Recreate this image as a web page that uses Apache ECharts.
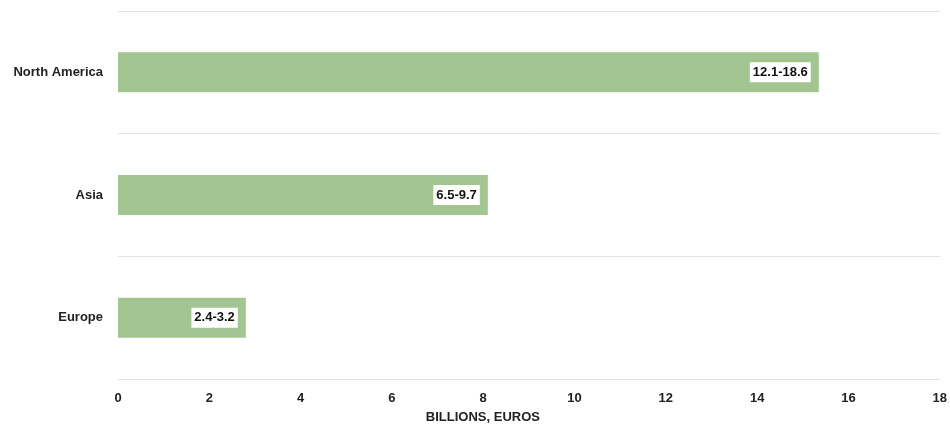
<!DOCTYPE html>
<html>
<head>
<meta charset="utf-8">
<script src="https://cdn.jsdelivr.net/npm/echarts@6/dist/echarts.min.js"></script>
<style>
  html, body { margin: 0; padding: 0; background: #fff; }
  #chart { width: 950px; height: 430px; }
</style>
</head>
<body>
<div id="chart"></div>
<script>
// Market size by region: ranges in billions of euros, bars drawn at the range midpoint
const regions = ['Europe', 'Asia', 'North America'];
const rangeLow = [2.4, 6.5, 12.1];
const rangeHigh = [3.2, 9.7, 18.6];
const xTicks = { min: 0, max: 18, interval: 2 };

const midpoints = regions.map((_, i) => +(((rangeLow[i] + rangeHigh[i]) / 2).toFixed(2)));
const rangeLabels = regions.map((_, i) => rangeLow[i] + '-' + rangeHigh[i]);

const chart = echarts.init(document.getElementById('chart'), null, { renderer: 'canvas' });
const font = 'Liberation Sans, Arial, sans-serif';

chart.setOption({
  animation: false,
  grid: { left: 118, right: 8, top: 11, bottom: 51, containLabel: false },
  xAxis: {
    type: 'value',
    min: xTicks.min,
    max: xTicks.max,
    interval: xTicks.interval,
    name: 'BILLIONS, EUROS',
    nameLocation: 'middle',
    nameGap: 32,
    nameTextStyle: {
      fontFamily: font, fontWeight: 'bold', fontSize: 13, color: '#222',
      padding: [0, 92, 0, 0]
    },
    axisLine: { show: false },
    axisTick: { show: false },
    splitLine: { show: false },
    axisLabel: { fontFamily: font, fontWeight: 'bold', fontSize: 13, color: '#222', margin: 13 }
  },
  yAxis: {
    type: 'category',
    data: regions,
    axisLine: { show: false },
    axisTick: { show: false },
    splitLine: { show: true, lineStyle: { color: '#e3e3e3', width: 1 } },
    axisLabel: { fontFamily: font, fontWeight: 'bold', fontSize: 13, color: '#222', margin: 15 }
  },
  series: [{
    type: 'bar',
    data: midpoints,
    barWidth: 40,
    itemStyle: { color: '#a3c592' },
    label: {
      show: true,
      position: 'insideRight',
      distance: 8,
      formatter: (p) => rangeLabels[p.dataIndex],
      fontFamily: font,
      fontWeight: 'bold',
      fontSize: 13,
      color: '#111',
      backgroundColor: '#fff',
      padding: [4, 3, 3, 3]
    }
  }]
});
</script>
</body>
</html>
